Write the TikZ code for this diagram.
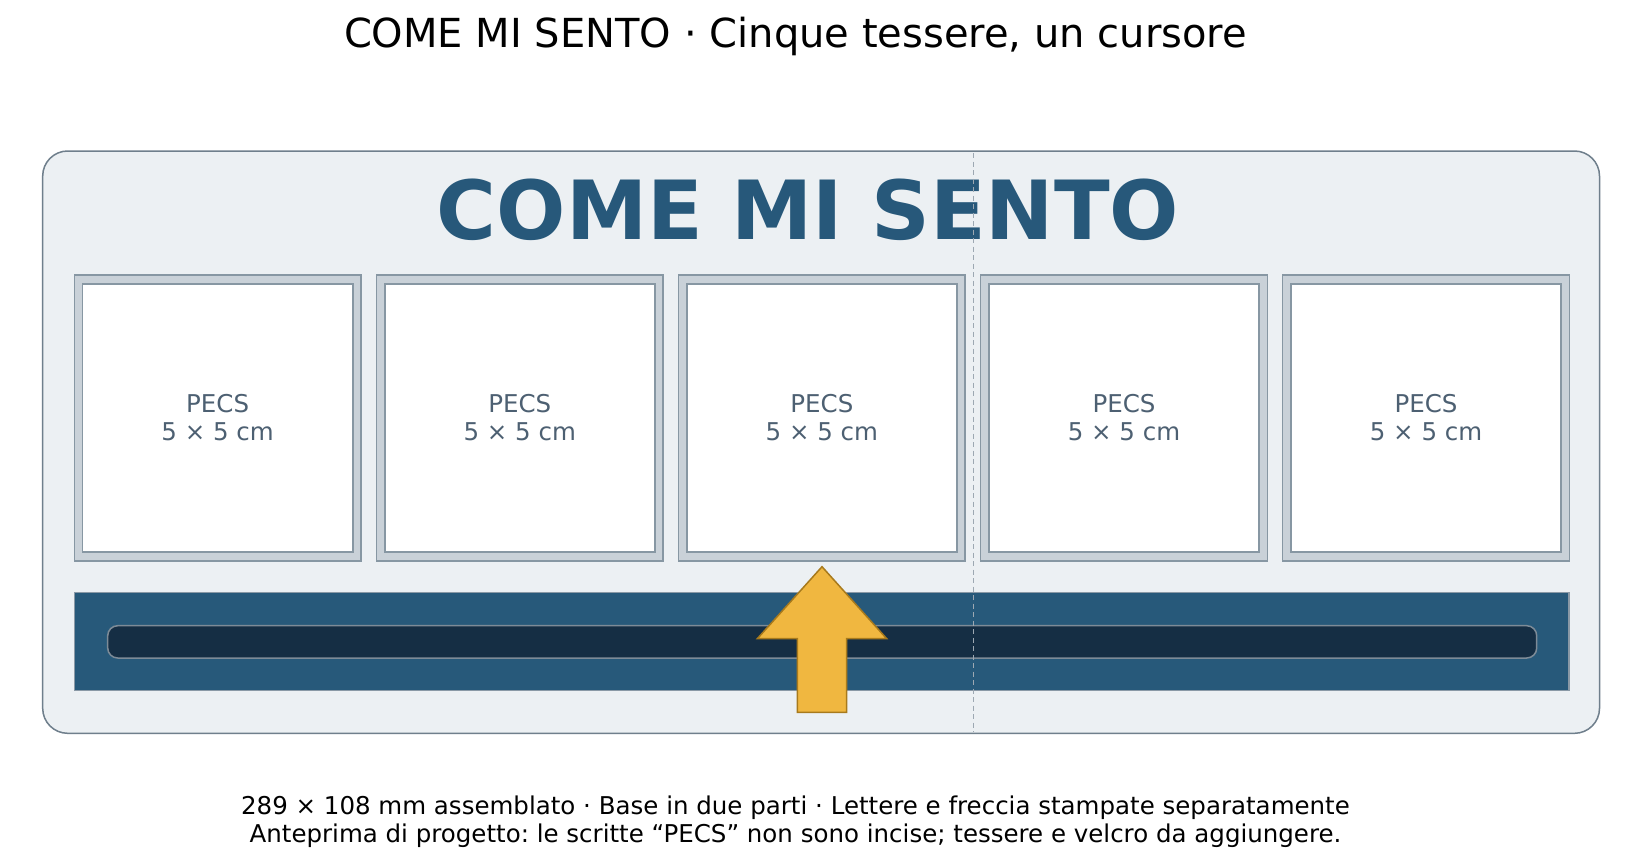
\documentclass[tikz,border=0pt]{standalone}
\usepackage{fontspec}
\setmainfont{DejaVu Sans}
\newfontface\djbold{DejaVu Sans Bold}
\frenchspacing
\definecolor{panelfill}{HTML}{ECF0F3}
\definecolor{paneledge}{HTML}{6F7F8C}
\definecolor{framefill}{HTML}{C9D1D8}
\definecolor{frameedge}{HTML}{8797A3}
\definecolor{barfill}{HTML}{27597A}
\definecolor{baredge}{HTML}{8A99A6}
\definecolor{slotfill}{HTML}{152E44}
\definecolor{slotedge}{HTML}{7D8B97}
\definecolor{arrowfill}{HTML}{F0B740}
\definecolor{arrowedge}{HTML}{A87A1C}
\definecolor{splitline}{HTML}{9DA8B2}
\definecolor{titleblue}{HTML}{27587A}
\definecolor{tiletext}{HTML}{4D6072}
\begin{document}
\begin{tikzpicture}[x=1pt,y=-1pt,
  panel/.style={fill=panelfill, draw=paneledge, line width=1.5pt, rounded corners=25pt},
  tileframe/.style={rectangle, fill=framefill, draw=frameedge, line width=1.5pt, minimum width=286.7pt, minimum height=286pt, inner sep=0pt},
  tileface/.style={rectangle, fill=white, draw=frameedge, line width=1.8pt, minimum width=270.3pt, minimum height=268.7pt, inner sep=0pt},
  tilelabel/.style={font=\fontsize{24.5}{29}\selectfont, text=tiletext, anchor=base, inner sep=0pt},
  footlabel/.style={font=\fontsize{24.5}{29}\selectfont, text=black, anchor=base, inner sep=0pt},
  slidebar/.style={fill=barfill, draw=baredge, line width=1.2pt},
  slotbar/.style={fill=slotfill, draw=slotedge, line width=1.5pt, rounded corners=10pt},
  cursor/.style={fill=arrowfill, draw=arrowedge, line width=1.5pt, line join=miter},
  split/.style={draw=splitline, line width=1.4pt, dash pattern=on 5pt off 3.5pt}
]
\useasboundingbox (0,0) rectangle (1644,862);
\fill[white] (0,0) rectangle (1644,862);

% header
\node[font=\fontsize{40}{48}\selectfont, anchor=base, inner sep=0pt] (header) at (795.5,47.5) {COME MI SENTO · Cinque tessere, un cursore};

% panel
\draw[panel] (42.7,151) rectangle (1599.5,733.3);

% big title
\node[font=\djbold\fontsize{81.6}{96}\selectfont, text=titleblue, anchor=base, inner sep=0pt] (bigtitle) at (808,239) {COME MI SENTO};

% tiles
\foreach \i in {0,...,4}{
  \node[tileframe] (frame\i) at (217.65+302.1*\i,418) {};
  \node[tileface] (face\i) at (frame\i.center) {};
  \node[tilelabel] (pecs\i) at (217.65+302.1*\i,412.3) {PECS};
  \node[tilelabel] (size\i) at (217.65+302.1*\i,440) {5 × 5 cm};
}

% slide bar
\draw[slidebar] (74.3,592.7) rectangle (1569,690.5);
\draw[slotbar] (107.7,625.7) rectangle (1536.7,658);

% split line
\coordinate (splittop) at (973.5,153);
\coordinate (splitbot) at (973.5,732);
\draw[split] (splittop) -- (splitbot);

% cursor arrow
\draw[cursor] (822,566.7) -- (886.7,638.7) -- (846.7,638.7) -- (846.7,712.3)
  -- (797.3,712.3) -- (797.3,638.7) -- (757.3,638.7) -- cycle;

% footer
\node[footlabel] (foot1) at (795.5,814.3) {289 × 108 mm assemblato · Base in due parti · Lettere e freccia stampate separatamente};
\node[footlabel] (foot2) at (795.5,842.7) {Anteprima di progetto: le scritte “PECS” non sono incise; tessere e velcro da aggiungere.};
\end{tikzpicture}
\end{document}
